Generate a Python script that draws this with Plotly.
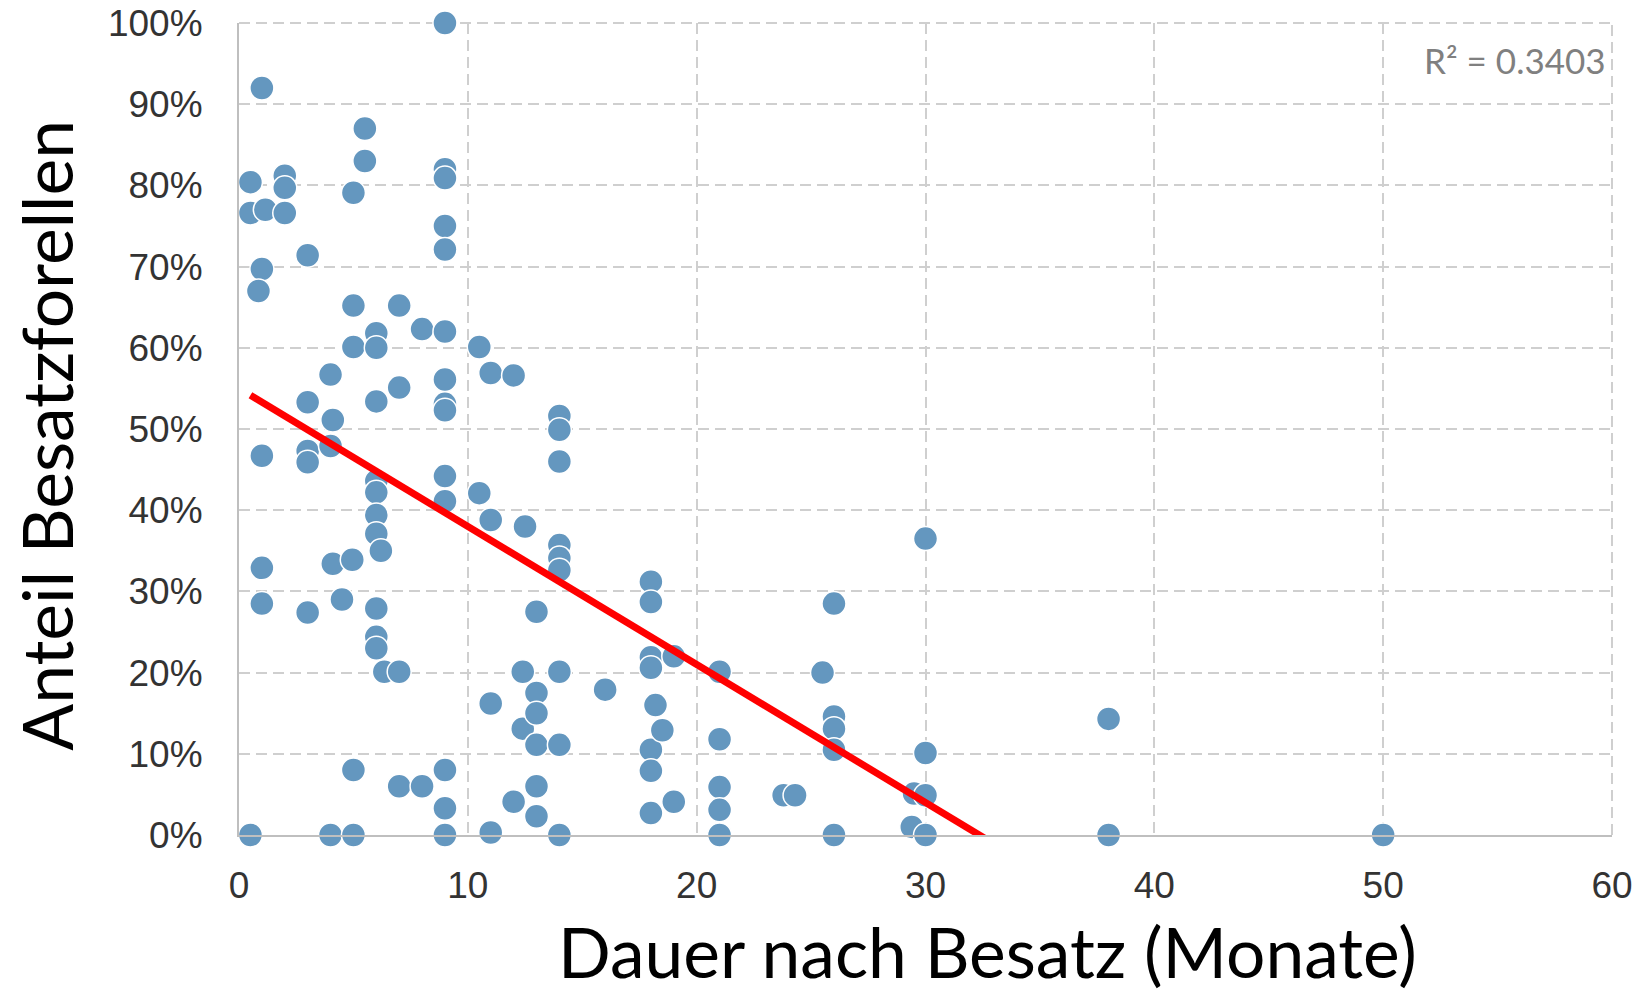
import plotly.graph_objects as go

# Dauer nach Besatz (Monate) and Anteil Besatzforellen (%)
months = [
    0.5, 0.5, 0.5,
    1.0, 1.15, 1.0, 0.85, 1.0, 1.0, 1.0,
    2.0, 2.0, 2.0,
    3.0, 3.0, 3.0, 3.0, 3.0,
    4.0, 4.1, 4.0, 4.1, 4.0,
    4.5,
    5.0, 5.0, 5.0, 4.95, 5.0, 5.0,
    5.5, 5.5,
    6.0, 6.0, 6.0, 6.0, 6.0, 6.0, 6.0, 6.0, 6.0, 6.0,
    6.2, 6.35,
    7.0, 7.0, 7.0, 7.0,
    8.0, 8.0,
    9.0, 9.0, 9.0, 9.0, 9.0, 9.0, 9.0, 9.0, 9.0, 9.0, 9.0, 9.0, 9.0, 9.0, 9.0,
    10.5, 10.5,
    11.0, 11.0, 11.0, 11.0,
    12.0, 12.0,
    12.4, 12.4, 12.5,
    13.0, 13.0, 13.0, 13.0, 13.0, 13.0,
    14.0, 14.0, 14.0, 14.0, 14.0, 14.0, 14.0, 14.0, 14.0,
    16.0,
    18.0, 18.0, 18.0, 18.0, 18.0, 18.0, 18.0,
    18.2, 18.5,
    19.0, 19.0,
    21.0, 21.0, 21.0, 21.0, 21.0,
    23.8, 24.3,
    25.5,
    26.0, 26.0, 26.0, 26.0, 26.0,
    29.4, 29.5,
    30.0, 30.0, 30.0, 30.0,
    38.0, 38.0,
    50.0,
]
share_pct = [
    80.4, 76.6, 0.0,
    92.0, 77.0, 69.7, 67.0, 46.7, 32.9, 28.5,
    81.2, 79.7, 76.6,
    71.4, 53.3, 47.3, 45.9, 27.4,
    56.7, 51.1, 47.9, 33.4, 0.0,
    29.0,
    79.1, 65.2, 60.1, 33.9, 8.0, 0.0,
    87.0, 83.0,
    61.8, 60.0, 53.4, 43.6, 42.2, 39.4, 37.1, 27.9, 24.4, 23.0,
    35.0, 20.1,
    65.2, 55.1, 20.1, 6.0,
    62.3, 6.0,
    100.0, 82.0, 80.9, 75.0, 72.1, 62.0, 56.1, 53.1, 52.3, 44.2, 41.1, 8.0, 3.3, 0.0, 0.0,
    60.1, 42.1,
    56.9, 38.8, 16.2, 0.3,
    56.6, 4.1,
    20.1, 13.1, 38.0,
    27.5, 17.5, 15.0, 11.1, 6.0, 2.3,
    51.6, 49.9, 46.0, 35.7, 34.1, 32.6, 20.1, 11.1, 0.0,
    17.9,
    31.2, 28.7, 21.9, 20.6, 10.5, 7.9, 2.7,
    16.0, 12.9,
    22.0, 4.1,
    20.1, 11.8, 5.9, 3.1, 0.0,
    4.9, 4.9,
    20.0,
    28.5, 14.6, 13.1, 10.5, 0.0,
    1.0, 5.1,
    36.5, 10.1, 4.9, 0.0,
    14.3, 0.0,
    0.0,
]

# linear trend line
trend_intercept = 55.0
trend_slope = -1.70
r2_label = "R² = 0.3403"

x_ticks = [0, 10, 20, 30, 40, 50, 60]
y_ticks = [0, 10, 20, 30, 40, 50, 60, 70, 80, 90, 100]
y_tick_labels = ["0%", "10%", "20%", "30%", "40%", "50%", "60%", "70%", "80%", "90%", "100%"]

x_title = "Dauer nach Besatz (Monate)"
y_title = "Anteil Besatzforellen"

trend_x = [min(months), max(months)]
trend_y = [trend_intercept + trend_slope * v for v in trend_x]

GRID_COLOR = "#cfcfcf"
GRID_DASH = "11px,6px"

fig = go.Figure()
fig.add_trace(go.Scatter(
    x=months, y=share_pct, mode="markers",
    marker=dict(size=24, color="#6497BF", line=dict(color="white", width=1.5)),
    cliponaxis=False, showlegend=False,
))
fig.add_trace(go.Scatter(
    x=trend_x, y=trend_y, mode="lines",
    line=dict(color="#FF0000", width=7),
    showlegend=False,
))

tickfont = dict(family="Liberation Sans, Arial, sans-serif", size=37, color="#333333")
grid = dict(showgrid=True, gridcolor=GRID_COLOR, gridwidth=2, griddash=GRID_DASH,
            showline=True, linecolor="#bfbfbf", linewidth=2, zeroline=False,
            ticks="", tickfont=tickfont, automargin=False, ticklabeloverflow="allow")

# dashed top and right frame edges (grid lines at 100 % and 60 months)
frame = [
    dict(type="line", xref="paper", yref="paper", x0=0, x1=1, y0=1, y1=1,
         line=dict(color=GRID_COLOR, width=2, dash=GRID_DASH), layer="below"),
    dict(type="line", xref="paper", yref="paper", x0=1, x1=1, y0=0, y1=1,
         line=dict(color=GRID_COLOR, width=2, dash=GRID_DASH), layer="below"),
]

fig.update_layout(
    width=1641, height=993,
    margin=dict(l=239, r=29, t=23, b=158),
    paper_bgcolor="white", plot_bgcolor="white",
    xaxis=dict(range=[0, 60], tickvals=x_ticks, ticklabelstandoff=17, **grid),
    yaxis=dict(range=[0, 100], tickvals=y_ticks, ticktext=y_tick_labels,
               ticklabelstandoff=27, **grid),
    shapes=frame,
    annotations=[
        dict(text=x_title, xref="paper", yref="paper", x=0.5455, y=-0.143,
             xanchor="center", yanchor="middle", showarrow=False,
             font=dict(family="Lato, sans-serif", size=69.5, color="black")),
        dict(text=y_title, xref="paper", yref="paper", x=-0.1408, y=0.4926,
             xanchor="center", yanchor="middle", showarrow=False, textangle=-90,
             font=dict(family="Lato, sans-serif", size=69.5, color="black")),
        dict(text=r2_label, xref="paper", yref="paper", x=0.997, y=0.9544,
             xanchor="right", yanchor="middle", showarrow=False,
             font=dict(family="Lato, sans-serif", size=35, color="#808080")),
    ],
)

# remove the browser's default 8px body margin so the figure fills the window
fig.write_html("out.html", config={"displayModeBar": False},
               post_script="document.body.style.margin='0';")
